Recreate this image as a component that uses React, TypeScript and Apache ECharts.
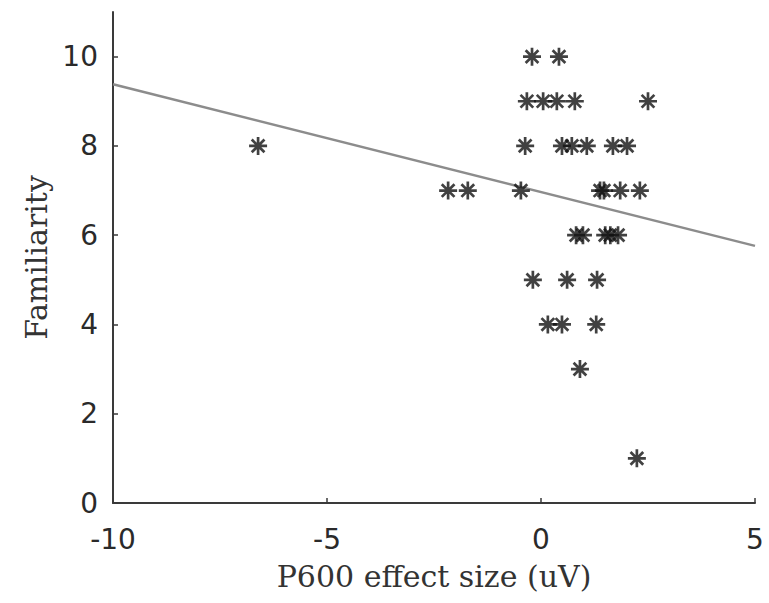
import React, { useEffect, useRef } from "react";
import * as echarts from "echarts";

// P600 effect size (uV) per observation
const effectSize: number[] = [
  -0.21, 0.42,
  -0.33, 0.05, 0.37, 0.79, 2.5,
  -6.61, -0.37, 0.49, 0.72, 1.07, 1.68, 2.01,
  -2.17, -1.71, -0.47, 1.38, 1.47, 1.85, 2.31,
  0.82, 0.98, 1.5, 1.62, 1.8,
  -0.19, 0.61, 1.31,
  0.16, 0.49, 1.29,
  0.91,
  2.24,
];
// Familiarity rating per observation
const familiarity: number[] = [
  10, 10,
  9, 9, 9, 9, 9,
  8, 8, 8, 8, 8, 8, 8,
  7, 7, 7, 7, 7, 7, 7,
  6, 6, 6, 6, 6,
  5, 5, 5,
  4, 4, 4,
  3,
  1,
];
// regression line endpoints
const fitX: number[] = [-10, 5];
const fitY: number[] = [9.38, 5.76];

const xTicks: number[] = [-10, -5, 0, 5];
const yTicks: number[] = [0, 2, 4, 6, 8, 10];

const STAR =
  "path://M0 8.5H20V11.5H0Z" +
  "M8.5 0H11.5V20H8.5Z" +
  "M3.99 1.87L18.13 16.01L16.01 18.13L1.87 3.99Z" +
  "M1.87 16.01L16.01 1.87L18.13 3.99L3.99 18.13Z";

export default function App() {
  const ref = useRef<HTMLDivElement>(null);
  useEffect(() => {
    if (!ref.current) return;
    const chart = echarts.init(ref.current, null, { renderer: "svg" });
    const pts = effectSize.map((x, i) => [x, familiarity[i]]);
    const fit = fitX.map((x, i) => [x, fitY[i]]);
    const axisLine = { show: true, onZero: false, lineStyle: { color: "#3a3a3a", width: 2 } };
    chart.setOption({
      animation: false,
      backgroundColor: "#ffffff",
      grid: { left: 113, right: 14, top: 12, bottom: 100 },
      xAxis: {
        type: "value",
        min: -10,
        max: 5,
        interval: 5,
        name: "P600 effect size (uV)",
        nameLocation: "middle",
        nameGap: 58,
        nameTextStyle: { fontFamily: "DejaVu Serif", fontSize: 30, color: "#333" },
        axisLine,
        axisTick: { show: true, inside: true, length: 5, lineStyle: { color: "#3a3a3a", width: 1.5 }, customValues: xTicks },
        axisLabel: { margin: 22, fontFamily: "DejaVu Sans", fontSize: 28, color: "#2a2a2a", customValues: xTicks },
        splitLine: { show: false },
      },
      yAxis: {
        type: "value",
        min: 0,
        max: 11,
        interval: 2,
        name: "Familiarity",
        nameLocation: "middle",
        nameGap: 62,
        nameTextStyle: { fontFamily: "DejaVu Serif", fontSize: 30, color: "#333" },
        axisLine,
        axisTick: { show: true, inside: true, length: 5, lineStyle: { color: "#3a3a3a", width: 1.5 }, customValues: yTicks },
        axisLabel: { margin: 15, fontFamily: "DejaVu Sans", fontSize: 28, color: "#2a2a2a", customValues: yTicks },
        splitLine: { show: false },
      },
      series: [
        {
          type: "line",
          data: fit,
          symbol: "none",
          lineStyle: { color: "#8c8c8c", width: 2.5 },
          z: 1,
        },
        {
          type: "scatter",
          data: pts,
          symbol: STAR,
          symbolSize: 18,
          itemStyle: { color: "#111111" },
          z: 2,
        },
      ],
    });
    return () => chart.dispose();
  }, []);
  return <div ref={ref} style={{ width: 769, height: 603, position: "absolute", left: 0, top: 0 }} />;
}
